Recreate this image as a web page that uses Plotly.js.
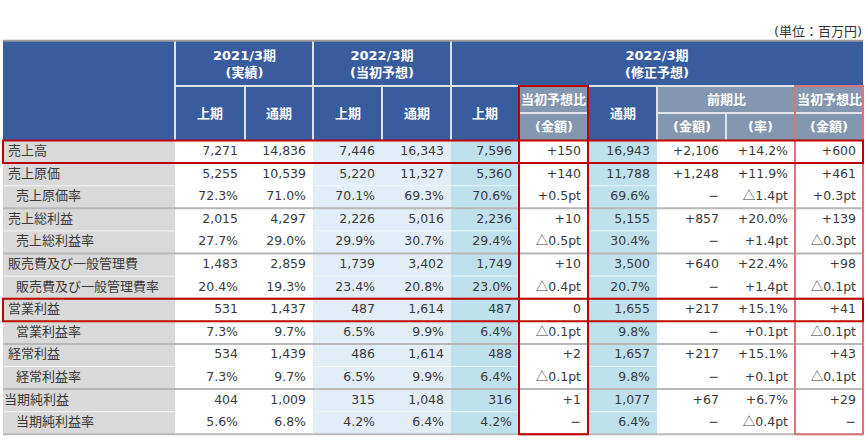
<!DOCTYPE html>
<html><head><meta charset="utf-8">
<script src="https://cdn.plot.ly/plotly-3.0.1.min.js"></script>
<style>html,body{margin:0;padding:0;background:#fff}#chart{width:868px;height:447px}</style>
</head><body><div id="chart"></div>
<script>
// ---- data ----
const rowLabels = ['売上高','売上原価','売上原価率','売上総利益','売上総利益率','販売費及び一般管理費','販売費及び一般管理費率','営業利益','営業利益率','経常利益','経常利益率','当期純利益','当期純利益率'];
const rowIndent = [0,0,1,0,1,0,1,0,1,0,1,2,1];
const h1_2021 = ['7,271','5,255','72.3%','2,015','27.7%','1,483','20.4%','531','7.3%','534','7.3%','404','5.6%'];
const fy_2021 = ['14,836','10,539','71.0%','4,297','29.0%','2,859','19.3%','1,437','9.7%','1,439','9.7%','1,009','6.8%'];
const h1_plan = ['7,446','5,220','70.1%','2,226','29.9%','1,739','23.4%','487','6.5%','486','6.5%','315','4.2%'];
const fy_plan = ['16,343','11,327','69.3%','5,016','30.7%','3,402','20.8%','1,614','9.9%','1,614','9.9%','1,048','6.4%'];
const h1_rev = ['7,596','5,360','70.6%','2,236','29.4%','1,749','23.0%','487','6.4%','488','6.4%','316','4.2%'];
const h1_vsPlan = ['+150','+140','+0.5pt','+10','△0.5pt','+10','△0.4pt','0','△0.1pt','+2','△0.1pt','+1','−'];
const fy_rev = ['16,943','11,788','69.6%','5,155','30.4%','3,500','20.7%','1,655','9.8%','1,657','9.8%','1,077','6.4%'];
const yoy_amt = ['+2,106','+1,248','−','+857','−','+640','−','+217','−','+217','−','+67','−'];
const yoy_rate = ['+14.2%','+11.9%','△1.4pt','+20.0%','+1.4pt','+22.4%','+1.4pt','+15.1%','+0.1pt','+15.1%','+0.1pt','+6.7%','△0.4pt'];
const fy_vsPlan = ['+600','+461','+0.3pt','+139','△0.3pt','+98','△0.1pt','+41','△0.1pt','+43','△0.1pt','+29','−'];
const periodHeaders = ['2021/3期<br>(実績)','2022/3期<br>(当初予想)','2022/3期<br>(修正予想)'];
const subHeaders = ['上期','通期','上期','通期','上期','当初予想比','通期','前期比','当初予想比'];
const amountHeaders = ['(金額)','(金額)','(率)','(金額)'];
const unitNote = '(単位：百万円)';

// ---- layout geometry ----
const colEdges = [3,175,245,313,382,451,519,588,657,726,795,863];
const hdrTop = 40.7, hdrMid = 86, hdrSub = 113, bodyTop = 140.5, rowH = 22.6;
const nRows = rowLabels.length;
const bodyBot = bodyTop + nRows*rowH;
const rowCenter = rowLabels.map((_,i)=>bodyTop + (i+0.5)*rowH);
const groupEnds = [3,5,7,9,11,13];

const FONT = 'DejaVu Sans, "Noto Sans CJK JP", sans-serif';
const CJK = '"Noto Sans CJK JP", sans-serif';
const TXT = '#3a3a3a';
const DARK = '#385c9e', GREYBLUE = '#8497b0', LABELBG = '#d9d9d9', LBLUE = '#e2edf7', MBLUE = '#bfe1ee';
const RED = '#c00000', RED2 = '#d9767c', SEP = '#b8b8b8';

const fmt = s => s.replace('△', '<span style="font-family:Noto Sans CJK JP">△</span>');
const cols = [h1_2021, fy_2021, h1_plan, fy_plan, h1_rev, h1_vsPlan, fy_rev, yoy_amt, yoy_rate, fy_vsPlan];
const traces = [];
cols.forEach((arr, c) => {
  traces.push({type:'scatter', mode:'text', x: arr.map(()=>colEdges[c+2]-7), y: rowCenter,
    text: arr.map(fmt), textposition:'middle left', textfont:{family:FONT, size:12.5, color:TXT},
    hoverinfo:'skip', showlegend:false, cliponaxis:false});
});
traces.push({type:'scatter', mode:'text', x: rowIndent.map(k => k===1 ? 16 : (k===2 ? 4 : 8)), y: rowCenter,
  text: rowLabels, textposition:'middle right', textfont:{family:FONT, size:13, color:TXT},
  hoverinfo:'skip', showlegend:false, cliponaxis:false});

const shapes = [];
function rect(x0,y0,x1,y1,fill,layer){shapes.push({type:'rect',xref:'x',yref:'y',x0,y0,x1,y1,fillcolor:fill,line:{width:0},layer:layer||'below'});}
function line(x0,y0,x1,y1,color,w){shapes.push({type:'line',xref:'x',yref:'y',x0,y0,x1,y1,line:{color,width:w}});}
function box(x0,y0,x1,y1,color,w){shapes.push({type:'rect',xref:'x',yref:'y',x0,y0,x1,y1,fillcolor:'rgba(0,0,0,0)',line:{color,width:w},layer:'above'});}

// header backgrounds
rect(colEdges[0], hdrTop, colEdges[11], bodyTop, DARK);
rect(colEdges[6], hdrMid, colEdges[7], bodyTop, GREYBLUE);
rect(colEdges[8], hdrMid, colEdges[11], bodyTop, GREYBLUE);
// body backgrounds
rect(colEdges[0], bodyTop, colEdges[1], bodyBot, LABELBG);
rect(colEdges[3], bodyTop, colEdges[5], bodyBot, LBLUE);
rect(colEdges[5], bodyTop, colEdges[6], bodyBot, MBLUE);
rect(colEdges[7], bodyTop, colEdges[8], bodyBot, MBLUE);
// faint row lines
for (let i=1;i<nRows;i++){ if(!groupEnds.includes(i)) line(colEdges[0], bodyTop+i*rowH, colEdges[11], bodyTop+i*rowH, 'rgba(255,255,255,0.7)', 1); }
// header grid lines
const HL = '#dfe3ea';
line(colEdges[1], hdrTop, colEdges[1], bodyTop, HL, 2);
line(colEdges[3], hdrTop, colEdges[3], bodyTop, HL, 2);
line(colEdges[5], hdrTop, colEdges[5], bodyTop, HL, 2);
line(colEdges[1], hdrMid, colEdges[11], hdrMid, HL, 2);
[2,4,8].forEach(k=>line(colEdges[k], hdrMid, colEdges[k], bodyTop, HL, 2));
line(colEdges[9], hdrSub, colEdges[9], bodyTop, HL, 2);
line(colEdges[6], hdrSub, colEdges[7], hdrSub, HL, 2);
line(colEdges[8], hdrSub, colEdges[11], hdrSub, HL, 2);
// top line
line(colEdges[0], hdrTop, colEdges[11], hdrTop, '#9a9a9a', 2);
// group separators
groupEnds.forEach(g => line(colEdges[0], bodyTop+g*rowH, colEdges[11], bodyTop+g*rowH, SEP, 2));
// red boxes
box(colEdges[10], hdrMid, colEdges[11], bodyBot, RED2, 2);
box(colEdges[6], hdrMid, colEdges[7], bodyBot, RED, 2);
box(colEdges[0], bodyTop, colEdges[11], bodyTop+rowH, RED, 2);
box(colEdges[0], bodyTop+7*rowH, colEdges[11], bodyTop+8*rowH, RED, 2);

const annotations = [];
function ann(text,x,y,size,opts){annotations.push(Object.assign({text, x, y, xref:'x', yref:'y', showarrow:false,
  font:{family:FONT, size:size||13, color:'#ffffff'}, xanchor:'center', yanchor:'middle'}, opts||{}));}
ann('<b>'+periodHeaders[0]+'</b>', (colEdges[1]+colEdges[3])/2, 63.5);
ann('<b>'+periodHeaders[1]+'</b>', (colEdges[3]+colEdges[5])/2, 63.5);
ann('<b>'+periodHeaders[2]+'</b>', (colEdges[5]+colEdges[11])/2, 63.5);
const mid = k => (colEdges[k]+colEdges[k+1])/2;
ann('<b>'+subHeaders[0]+'</b>', mid(1), 113);
ann('<b>'+subHeaders[1]+'</b>', mid(2), 113);
ann('<b>'+subHeaders[2]+'</b>', mid(3), 113);
ann('<b>'+subHeaders[3]+'</b>', mid(4), 113);
ann('<b>'+subHeaders[4]+'</b>', mid(5), 113);
ann('<b>'+subHeaders[5]+'</b>', mid(6), 99.5);
ann('<b>'+subHeaders[6]+'</b>', mid(7), 113);
ann('<b>'+subHeaders[7]+'</b>', (colEdges[8]+colEdges[10])/2, 99.5);
ann('<b>'+subHeaders[8]+'</b>', mid(10), 99.5);
ann('<b>'+amountHeaders[0]+'</b>', mid(6), 126.5);
ann('<b>'+amountHeaders[1]+'</b>', mid(8), 126.5);
ann('<b>'+amountHeaders[2]+'</b>', mid(9), 126.5);
ann('<b>'+amountHeaders[3]+'</b>', mid(10), 126.5);
ann(unitNote, 864, 31, 13, {xanchor:'right', font:{family:FONT,size:13,color:'#333'}});

const layout = {width:868, height:447, margin:{l:0,r:0,t:0,b:0}, paper_bgcolor:'#fff', plot_bgcolor:'#fff',
  xaxis:{range:[0,868], visible:false, fixedrange:true}, yaxis:{range:[447,0], visible:false, fixedrange:true},
  shapes, annotations, showlegend:false};
Plotly.newPlot('chart', traces, layout, {displayModeBar:false, staticPlot:true});
</script></body></html>
